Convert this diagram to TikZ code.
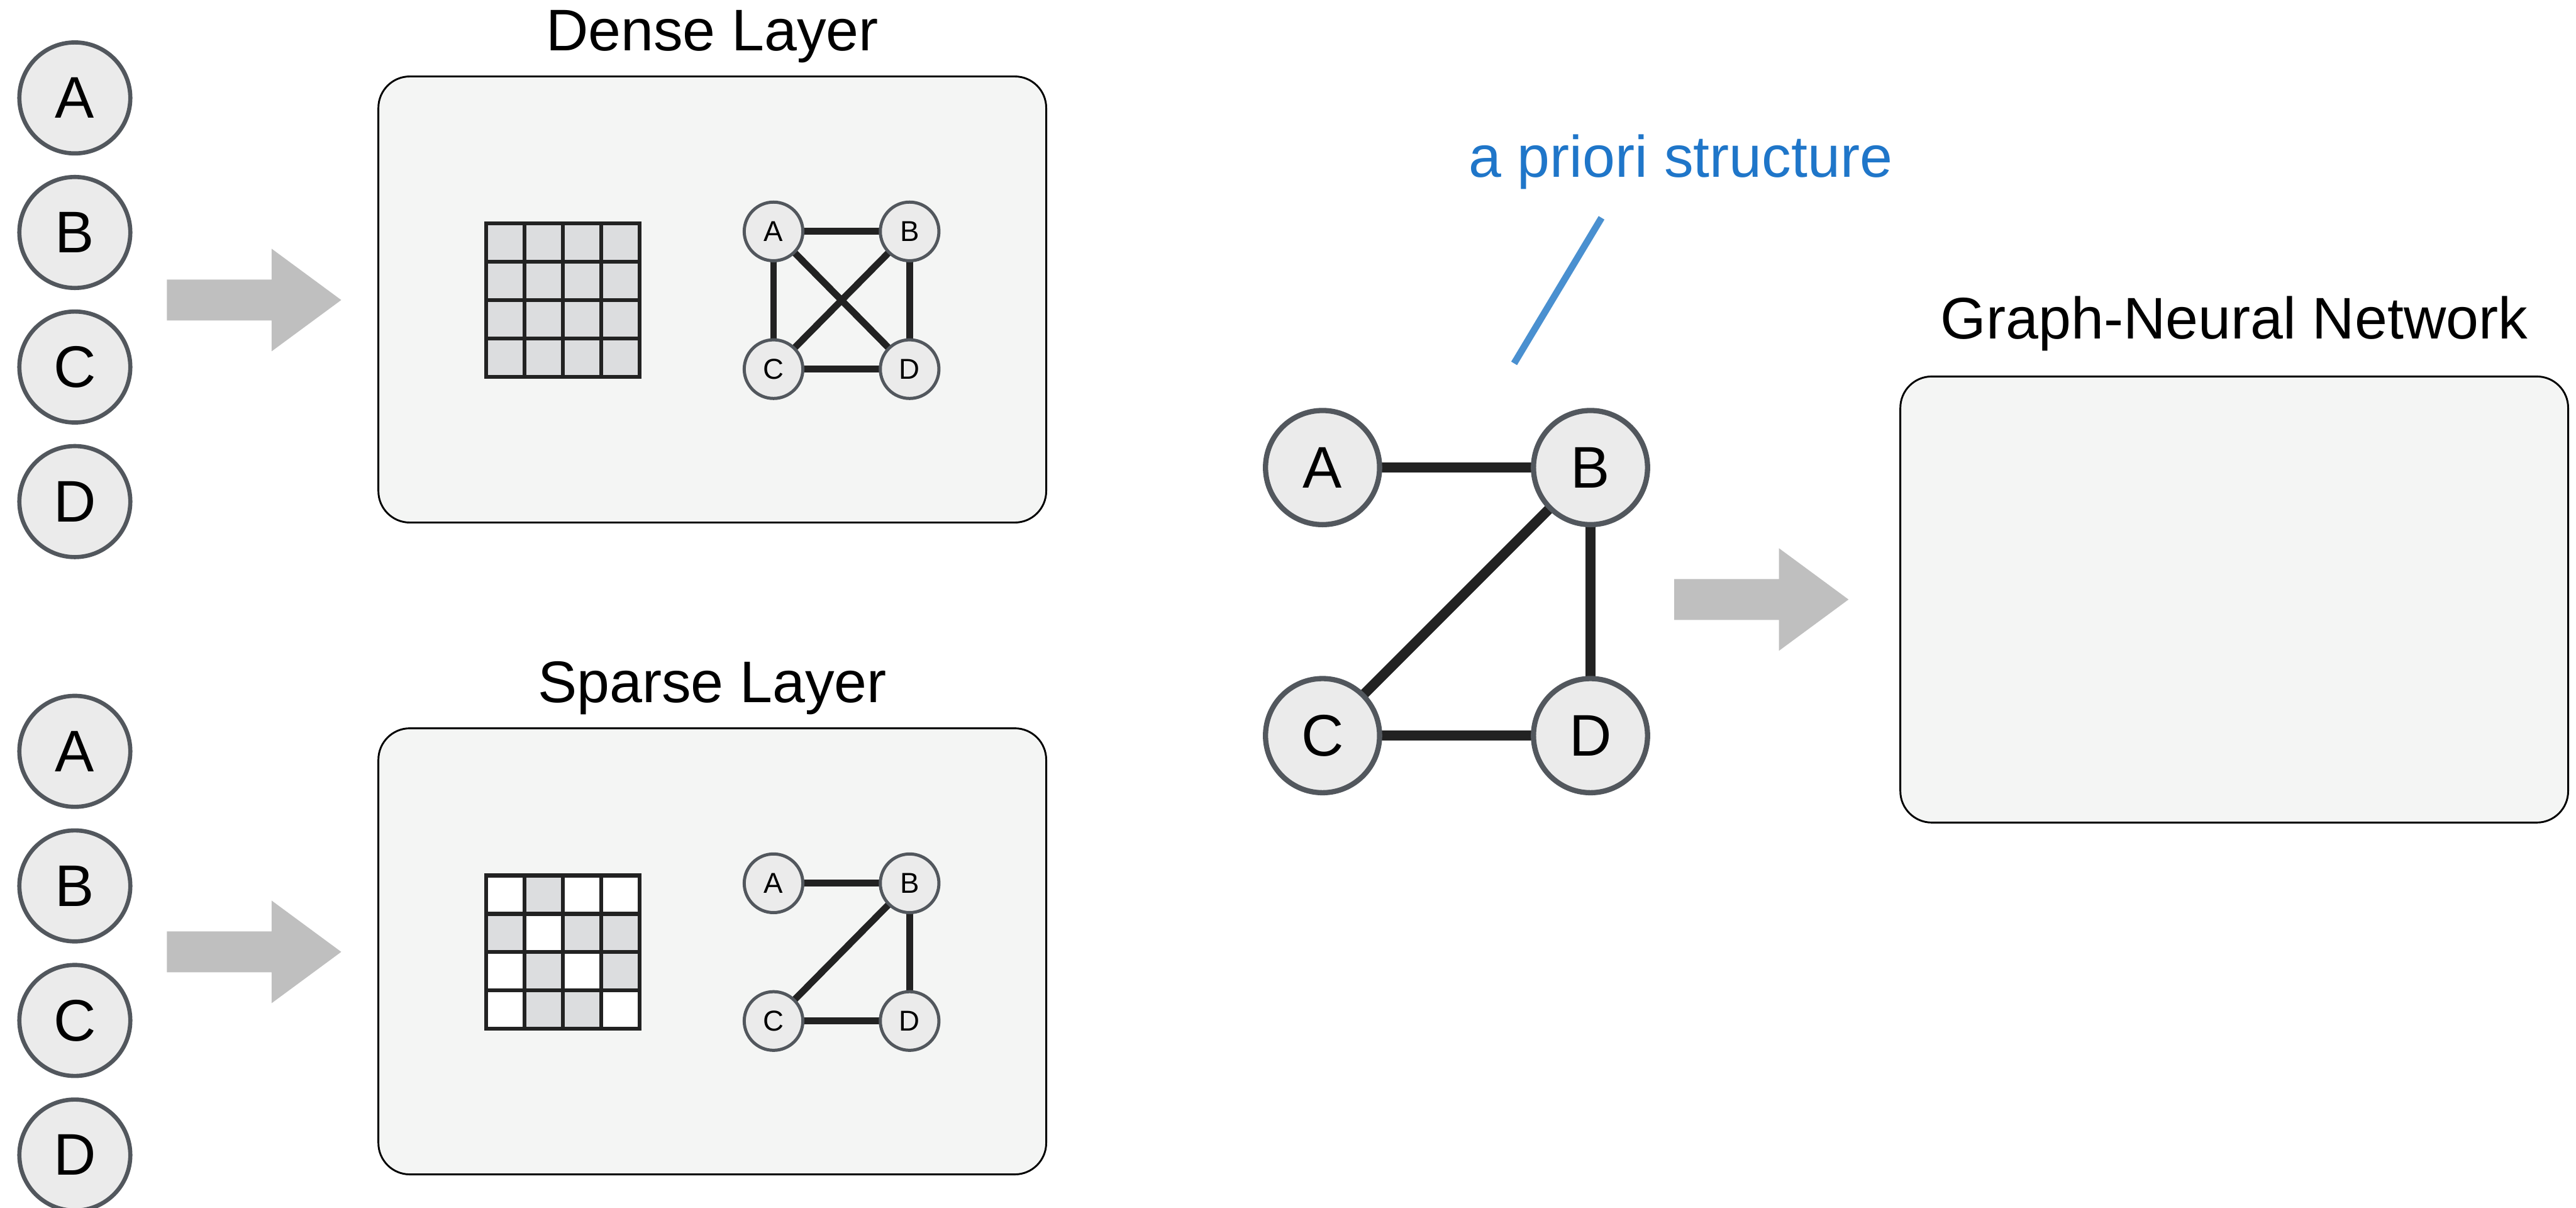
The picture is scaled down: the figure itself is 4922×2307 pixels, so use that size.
\documentclass[tikz,border=0pt]{standalone}
\usepackage{fontspec}
\setmainfont{Liberation Sans}
\usetikzlibrary{backgrounds}

\definecolor{panelfill}{HTML}{F4F5F4}
\definecolor{cellgray}{HTML}{DCDDDF}
\definecolor{vertfill}{HTML}{EBEBEB}
\definecolor{vertline}{HTML}{52575D}
\definecolor{edgeink}{HTML}{222222}
\definecolor{arrowgray}{HTML}{BFBFBF}
\definecolor{notetext}{HTML}{1F76C9}
\definecolor{noteline}{HTML}{4A90D0}

\pgfdeclarelayer{panels}
\pgfdeclarelayer{edges}
\pgfsetlayers{panels,edges,main}

\begin{document}
\begin{tikzpicture}[x=0.1mm,y=-0.1mm,
  panel/.style={draw=black, line width=0.35mm, fill=panelfill,
    rounded corners=6mm, minimum width=127.6mm, minimum height=85.2mm,
    inner sep=0pt},
  bigfont/.style={font=\fontsize{31.9pt}{38pt}\selectfont},
  titletext/.style={bigfont, anchor=base, inner sep=0pt},
  listvert/.style={circle, draw=vertline, fill=vertfill, line width=0.8mm,
    minimum size=21.2mm, inner sep=0pt, bigfont},
  bigvert/.style={circle, draw=vertline, fill=vertfill, line width=1mm,
    minimum size=21.8mm, inner sep=0pt, bigfont},
  smallvert/.style={circle, draw=vertline, fill=vertfill, line width=0.6mm,
    minimum size=11.2mm, inner sep=0pt,
    font=\fontsize{15.6pt}{18pt}\selectfont},
  smalledge/.style={draw=edgeink, line width=1.3mm},
  bigedge/.style={draw=edgeink, line width=1.9mm},
  gridline/.style={draw=edgeink, line width=0.75mm, line cap=rect},
  fatarrow/.pic={\fill[arrowgray] (0,-39) -- (200,-39) -- (200,-98) -- (333,0)
    -- (200,98) -- (200,39) -- (0,39) -- cycle;}
]
\useasboundingbox (0,0) rectangle (4922,2307);

% ---------- panels ----------
\begin{pgfonlayer}{panels}
  \node[panel] (dense) at (1361,572) {};
  \node[panel] (sparse) at (1361,1817) {};
  \node[panel] (gnn) at (4269,1145) {};
\end{pgfonlayer}

\node[titletext] (densetitle) at (1361,97) {Dense Layer};
\node[titletext] (sparsetitle) at (1361,1342) {Sparse Layer};
\node[titletext] (gnntitle) at (4269,647) {Graph-Neural Network};

% ---------- input vertex columns ----------
\node[listvert] (inA1) at (143,187) {A};
\node[listvert] (inB1) at (143,444) {B};
\node[listvert] (inC1) at (143,701) {C};
\node[listvert] (inD1) at (143,958) {D};

\node[listvert] (inA2) at (143,1435) {A};
\node[listvert] (inB2) at (143,1692) {B};
\node[listvert] (inC2) at (143,1949) {C};
\node[listvert] (inD2) at (143,2206) {D};

% ---------- block arrows ----------
\pic at (319,573) {fatarrow};
\pic at (319,1818) {fatarrow};
\pic at (3199,1145) {fatarrow};

% ---------- adjacency matrices ----------
% dense: every entry filled
\fill[cellgray] (929,427) rectangle ++(293,293);
\foreach \i in {0,...,4} {
  \draw[gridline] (929+\i*73.25,427) -- ++(0,293);
  \draw[gridline] (929,427+\i*73.25) -- ++(293,0);
}
% sparse: only the entries of existing edges filled
\fill[white] (929,1672) rectangle ++(293,293);
\foreach \c/\r in {1/0, 0/1, 2/1, 3/1, 1/2, 3/2, 1/3, 2/3} {
  \fill[cellgray] (929+\c*73.25,1672+\r*73.25) rectangle ++(73.25,73.25);
}
\foreach \i in {0,...,4} {
  \draw[gridline] (929+\i*73.25,1672) -- ++(0,293);
  \draw[gridline] (929,1672+\i*73.25) -- ++(293,0);
}

% ---------- fully connected graph ----------
\node[smallvert] (dA) at (1478,442) {A};
\node[smallvert] (dB) at (1738,442) {B};
\node[smallvert] (dC) at (1478,705) {C};
\node[smallvert] (dD) at (1738,705) {D};
\begin{pgfonlayer}{edges}
  \draw[smalledge] (dA.center) -- (dB.center);
  \draw[smalledge] (dA.center) -- (dC.center);
  \draw[smalledge] (dA.center) -- (dD.center);
  \draw[smalledge] (dB.center) -- (dC.center);
  \draw[smalledge] (dB.center) -- (dD.center);
  \draw[smalledge] (dC.center) -- (dD.center);
\end{pgfonlayer}

% ---------- sparse graph ----------
\node[smallvert] (sA) at (1478,1687) {A};
\node[smallvert] (sB) at (1738,1687) {B};
\node[smallvert] (sC) at (1478,1950) {C};
\node[smallvert] (sD) at (1738,1950) {D};
\begin{pgfonlayer}{edges}
  \draw[smalledge] (sA.center) -- (sB.center);
  \draw[smalledge] (sB.center) -- (sC.center);
  \draw[smalledge] (sB.center) -- (sD.center);
  \draw[smalledge] (sC.center) -- (sD.center);
\end{pgfonlayer}

% ---------- prior graph fed to the GNN ----------
\node[bigvert] (gA) at (2527,893) {A};
\node[bigvert] (gB) at (3039,893) {B};
\node[bigvert] (gC) at (2527,1405) {C};
\node[bigvert] (gD) at (3039,1405) {D};
\begin{pgfonlayer}{edges}
  \draw[bigedge] (gA.center) -- (gB.center);
  \draw[bigedge] (gB.center) -- (gC.center);
  \draw[bigedge] (gB.center) -- (gD.center);
  \draw[bigedge] (gC.center) -- (gD.center);
\end{pgfonlayer}

% ---------- annotation ----------
\node[titletext, text=notetext] (prior) at (3211,338) {a priori structure};
\coordinate (priorTop) at (3060,416);
\coordinate (priorEnd) at (2893,694);
\draw[noteline, line width=1.3mm] (priorTop) -- (priorEnd);

\end{tikzpicture}
\end{document}
